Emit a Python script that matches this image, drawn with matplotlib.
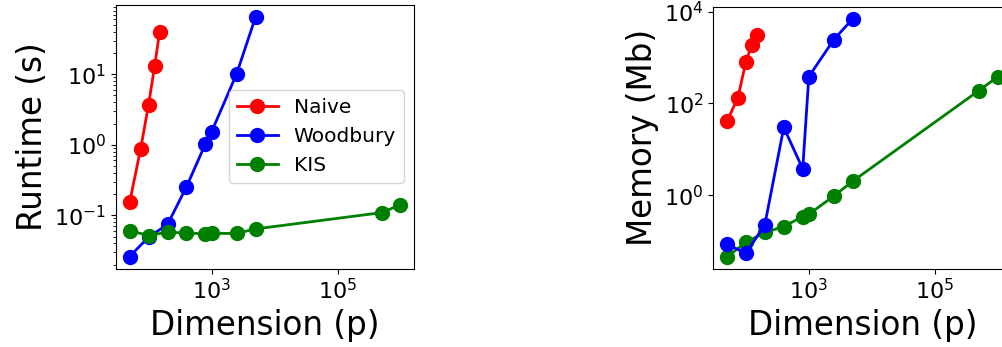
import matplotlib
matplotlib.use('Agg')
import matplotlib.pyplot as plt

# problem sizes
p_naive = [50, 75, 100, 125, 150]
p_wood = [50, 100, 200, 400, 800, 1000, 2500, 5000]
p_kis = [50, 100, 200, 400, 800, 1000, 2500, 5000, 500000, 1000000]

# runtime (s)
naive_time = [0.152, 0.88, 3.7, 13.1, 39.8]
wood_time = [0.026, 0.049, 0.074, 0.253, 1.03, 1.52, 10.1, 64.8]
kis_time = [0.0607, 0.0516, 0.0576, 0.056, 0.0545, 0.0553, 0.0553, 0.064, 0.109, 0.141]

# memory (Mb)
naive_mem = [40.5, 134, 807, 1900, 3050]
wood_mem = [0.087, 0.0546, 0.228, 30, 3.78, 383, 2460, 7000]
kis_mem = [0.046, 0.0946, 0.156, 0.21, 0.345, 0.388, 0.97, 2.04, 190, 382]

LABEL_SIZE = 23.5
TICK_SIZE = 16
style = dict(marker='o', markersize=10, linewidth=2)

fig = plt.figure(figsize=(10.03, 3.47), dpi=100)
ax1 = fig.add_axes([0.1157, 0.2262, 0.2971, 0.7594])
ax2 = fig.add_axes([0.7112, 0.2256, 0.2971, 0.7550])

ax1.plot(p_naive, naive_time, color='red', label='Naive', **style)
ax1.plot(p_wood, wood_time, color='blue', label='Woodbury', **style)
ax1.plot(p_kis, kis_time, color='green', label='KIS', **style)
ax1.set_ylabel('Runtime (s)', fontsize=LABEL_SIZE)
ax1.legend(loc='center right', fontsize=14.5)

ax2.plot(p_naive, naive_mem, color='red', label='Naive', **style)
ax2.plot(p_kis, kis_mem, color='green', label='KIS', **style)
ax2.plot(p_wood, wood_mem, color='blue', label='Woodbury', **style)
ax2.set_ylabel('Memory (Mb)', fontsize=LABEL_SIZE)

for ax in (ax1, ax2):
    ax.set_xscale('log')
    ax.set_yscale('log')
    ax.set_xlabel('Dimension (p)', fontsize=LABEL_SIZE)
    ax.tick_params(labelsize=TICK_SIZE)

fig.savefig('out.png', dpi=100)
